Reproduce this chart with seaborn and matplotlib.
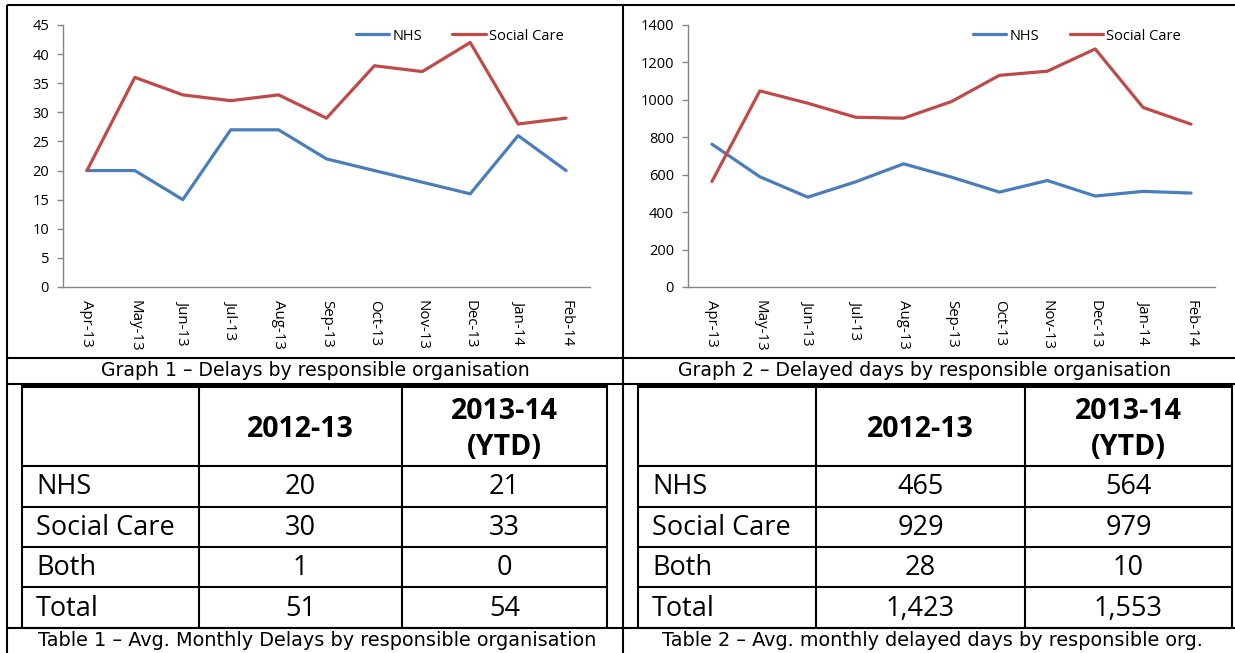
import numpy as np
import pandas as pd
import matplotlib
matplotlib.use("Agg")
import matplotlib.pyplot as plt
from matplotlib.lines import Line2D
import seaborn as sns

# ---------------- data ----------------
months = ["Apr-13", "May-13", "Jun-13", "Jul-13", "Aug-13", "Sep-13",
          "Oct-13", "Nov-13", "Dec-13", "Jan-14", "Feb-14"]
series_names = ["NHS", "Social Care"]

g1_nhs = [20, 20, 15, 27, 27, 22, 20, 18, 16, 26, 20]
g1_social = [20, 36, 33, 32, 33, 29, 38, 37, 42, 28, 29]

g2_nhs = [763, 589, 480, 562, 658, 587, 507, 569, 486, 511, 502]
g2_social = [564, 1048, 982, 907, 902, 991, 1131, 1153, 1272, 959, 870]

g1_yticks = [0, 5, 10, 15, 20, 25, 30, 35, 40, 45]
g2_yticks = [0, 200, 400, 600, 800, 1000, 1200, 1400]

table_rows = ["NHS", "Social Care", "Both", "Total"]
table_cols = ["2012-13", "2013-14\n(YTD)"]
t1_2012 = ["20", "30", "1", "51"]
t1_2013 = ["21", "33", "0", "54"]
t2_2012 = ["465", "929", "28", "1,423"]
t2_2013 = ["564", "979", "10", "1,553"]

graph_captions = ["Graph 1 \u2013 Delays by responsible organisation",
                  "Graph 2 \u2013 Delayed days by responsible organisation"]
table_captions = ["Table 1 \u2013 Avg. Monthly Delays by responsible organisation",
                  "Table 2 \u2013 Avg. monthly delayed days by responsible org."]

# ---------------- style ----------------
sns.set_theme(style="white")
plt.rcParams["font.family"] = ["Open Sans", "DejaVu Sans"]
plt.rcParams["text.color"] = "black"
plt.rcParams["xtick.labelcolor"] = "black"
plt.rcParams["ytick.labelcolor"] = "black"

W, H = 1235, 653
fig = plt.figure(figsize=(W / 100, H / 100), dpi=100)
fig.patch.set_facecolor("white")


def fx(x):
    return x / W


def fy(y):
    return 1 - y / H


def hline(y, x0, x1, lw=1.5):
    fig.add_artist(Line2D([fx(x0), fx(x1)], [fy(y), fy(y)], transform=fig.transFigure,
                          color="black", lw=lw, solid_capstyle="butt"))


def vline(x, y0, y1, lw=1.5):
    fig.add_artist(Line2D([fx(x), fx(x)], [fy(y0), fy(y1)], transform=fig.transFigure,
                          color="black", lw=lw, solid_capstyle="butt"))


palette = {"NHS": "#4A7EBB", "Social Care": "#BE4B48"}
GRAY = "#868686"


def make_chart(left_px, right_px, nhs, social, yticks, legend_right):
    top_px, bottom_px = 25, 287
    ax = fig.add_axes([fx(left_px), fy(bottom_px), (right_px - left_px) / W,
                       (bottom_px - top_px) / H])
    df = pd.DataFrame({
        "pos": list(range(len(months))) * 2,
        "value": list(nhs) + list(social),
        "series": [series_names[0]] * len(months) + [series_names[1]] * len(months),
    })
    sns.lineplot(data=df, x="pos", y="value", hue="series", palette=palette,
                 hue_order=series_names, linewidth=2.3, ax=ax, sort=False)
    ax.set_xlim(-0.5, len(months) - 0.5)
    ax.set_ylim(yticks[0], yticks[-1])
    ax.set_yticks(yticks)
    ax.set_yticklabels([str(t) for t in yticks])
    ax.set_xticks(range(len(months)))
    ax.set_xticklabels(months, rotation=-90, va="top", ha="center")
    ax.set_xticks(np.arange(-0.5, len(months), 1.0), minor=True)
    ax.tick_params(axis="x", which="major", length=0, pad=9, labelsize=10.8,
                   labelcolor="black")
    ax.tick_params(axis="x", which="minor", length=5, width=1, color=GRAY, direction="out")
    ax.tick_params(axis="y", which="major", length=4, width=1, color=GRAY, direction="out",
                   pad=6, labelsize=10.5, labelcolor="black", left=True)
    ax.set_xlabel("")
    ax.set_ylabel("")
    for s in ["top", "right"]:
        ax.spines[s].set_visible(False)
    for s in ["left", "bottom"]:
        ax.spines[s].set_color(GRAY)
        ax.spines[s].set_linewidth(1)
    ax.grid(False)
    leg = ax.legend(ncol=2, frameon=False, loc="center right",
                    bbox_to_anchor=(legend_right, 0.958), borderaxespad=0, borderpad=0,
                    handlelength=2.3, columnspacing=2.1, handletextpad=0.2,
                    fontsize=10.5)
    for t in leg.get_texts():
        t.set_color("black")
    return ax


make_chart(63, 590, g1_nhs, g1_social, g1_yticks, 0.95)
make_chart(688, 1215, g2_nhs, g2_social, g2_yticks, 0.935)

# ---------------- frame lines ----------------
hline(5, 7, 1235)
vline(7, 5, 653)
vline(623, 5, 653)
hline(358, 7, 1235)
hline(384, 7, 1235)
hline(628, 7, 1235)

# captions
cap_font = ["DejaVu Sans"]
fig.text(fx(315), fy(371), graph_captions[0], ha="center", va="center", fontsize=13.6, family=cap_font)
fig.text(fx(925), fy(371), graph_captions[1], ha="center", va="center", fontsize=13.6, family=cap_font)
fig.text(fx(317), fy(640), table_captions[0], ha="center", va="center", fontsize=13.9, family=cap_font)
fig.text(fx(932), fy(640), table_captions[1], ha="center", va="center", fontsize=13.9, family=cap_font)

# ---------------- tables ----------------
row_edges = [385, 466, 507, 547, 587, 628]


def make_table(x0, c1, c2, x1, v2012, v2013):
    # borders
    hline(385.5, x0, x1, lw=2.2)
    for y in row_edges[1:]:
        hline(y, x0, x1)
    for x in (x0, c1, c2, x1):
        vline(x, row_edges[0], row_edges[-1])
    cols_center = [(c1 + c2) / 2, (c2 + x1) / 2]
    ymid_header = (row_edges[0] + row_edges[1]) / 2 + 4
    for cc, lab in zip(cols_center, table_cols):
        fig.text(fx(cc), fy(ymid_header), lab, ha="center", va="center",
                 fontsize=20.5, fontweight="bold", linespacing=1.3)
    for i, rlab in enumerate(table_rows):
        ym = (row_edges[i + 1] + row_edges[i + 2]) / 2 + 1
        fig.text(fx(x0 + 14), fy(ym), rlab, ha="left", va="center", fontsize=19.5)
        fig.text(fx(cols_center[0]), fy(ym), v2012[i], ha="center", va="center", fontsize=19.5)
        fig.text(fx(cols_center[1]), fy(ym), v2013[i], ha="center", va="center", fontsize=19.5)


make_table(22, 199, 402, 607, t1_2012, t1_2013)
make_table(638, 816, 1025, 1232, t2_2012, t2_2013)

fig.savefig("out.png", dpi=100, facecolor="white")
